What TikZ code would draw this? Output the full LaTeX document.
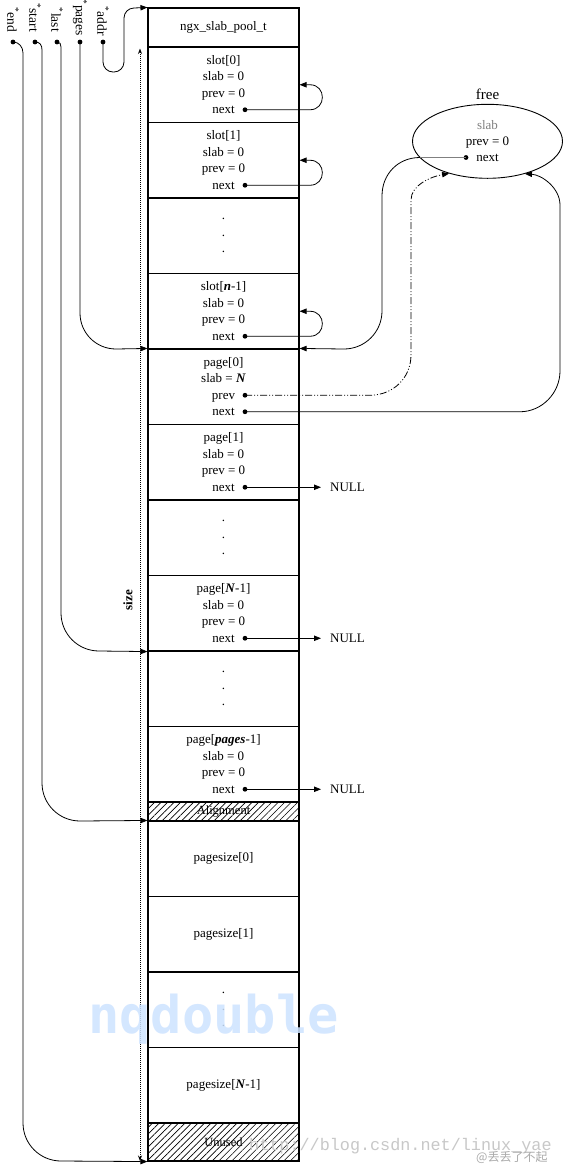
\documentclass[tikz,border=0pt]{standalone}
\usepackage{fontspec}
\setmainfont{Liberation Serif}
\newfontfamily\wmmono{Liberation Mono}
\newfontfamily\wmdots{DejaVu Sans Mono}
\newfontfamily\cjk{Noto Sans CJK SC}
\usetikzlibrary{arrows.meta,patterns.meta,shapes.geometric}
\newcommand\rowfont{\fontsize{13}{16.5}\selectfont}
\definecolor{wmblue}{RGB}{205,227,255}
\definecolor{wmgray}{RGB}{200,200,200}
\begin{document}
\begin{tikzpicture}[x=1pt,y=-1pt,
  row/.style={draw, line width=1.1pt, minimum width=151pt, inner sep=0pt, align=center, font=\rowfont},
  conn/.style={line width=0.8pt, -{Triangle[length=7pt,width=5.4pt]}},
  plain/.style={line width=0.8pt},
  pdot/.style={circle, fill, inner sep=0pt, minimum size=4.8pt},
  hatch/.style={pattern={Lines[angle=45,distance=4.6pt,line width=0.6pt]}},
  lbl/.style={inner sep=0pt, font=\rowfont},
  ptrlbl/.style={inner sep=0pt, font=\fontsize{13.5}{16}\selectfont, rotate=-90, anchor=east},
  dashdotdot/.style={dash pattern=on 7pt off 2pt on 1pt off 2pt on 1pt off 2pt}]
\fill[white] (0,0) rectangle (564,1165);
\useasboundingbox (0,0) rectangle (564,1165);

% ---- main column ----
\node[row, minimum height=39pt] (header) at (223.5,27.5) {ngx\_slab\_pool\_t};
\node[row, minimum height=75.5pt] (slot0) at (223.5,84.75) {slot[0]\\slab = 0\\prev = 0\\next};
\node[row, minimum height=75.5pt] (slot1) at (223.5,160.25) {slot[1]\\slab = 0\\prev = 0\\next};
\node[row, minimum height=75.5pt] (dots1) at (223.5,235.75) {.\\.\\.};
\node[row, minimum height=75.5pt] (slotn) at (223.5,311.25) {slot[\textbf{\textit{n}}-1]\\slab = 0\\prev = 0\\next};
\node[row, minimum height=75.5pt] (page0) at (223.5,386.75) {page[0]\\slab = \textbf{\textit{N}}\\prev\\next};
\node[row, minimum height=75.5pt] (page1) at (223.5,462.25) {page[1]\\slab = 0\\prev = 0\\next};
\node[row, minimum height=75.5pt] (dots2) at (223.5,537.75) {.\\.\\.};
\node[row, minimum height=75.5pt] (pageN) at (223.5,613.25) {page[\textbf{\textit{N}}-1]\\slab = 0\\prev = 0\\next};
\node[row, minimum height=75.5pt] (dots3) at (223.5,688.75) {.\\.\\.};
\node[row, minimum height=75.5pt] (pagep) at (223.5,764.25) {page[\textbf{\textit{pages}}-1]\\slab = 0\\prev = 0\\next};
\node[row, minimum height=19pt, hatch] (alignrow) at (223.5,811.5) {\fontsize{12.5}{13}\selectfont Alignment};
\node[row, minimum height=75.5pt] (ps0) at (223.5,858.75) {pagesize[0]};
\node[row, minimum height=75.5pt] (ps1) at (223.5,934.25) {pagesize[1]};
\node[row, minimum height=75.5pt] (dots4) at (223.5,1009.75) {.\\.\\.};
\node[row, minimum height=75.5pt] (psN) at (223.5,1085.25) {pagesize[\textbf{\textit{N}}-1]};
\node[row, minimum height=38pt, hatch] (unused) at (223.5,1142) {\fontsize{12.5}{13}\selectfont Unused};

% ---- size ----
\coordinate (sizetop) at (140,48.5);
\coordinate (sizebot) at (140,1161);
\draw[line width=0.8pt, dash pattern=on 1pt off 1pt, {Stealth[length=5.5pt,width=4pt]}-{Stealth[length=5.5pt,width=4pt]}] (sizetop) -- (sizebot);
\node[rotate=90, inner sep=0pt, font=\rowfont\bfseries] (sizelbl) at (128,600) {size};

% ---- pointer labels and dots ----
\node[ptrlbl] (lend) at (13,32) {\textsuperscript{*}end};
\node[ptrlbl] (lstart) at (35,32) {\textsuperscript{*}start};
\node[ptrlbl] (llast) at (57,32) {\textsuperscript{*}last};
\node[ptrlbl] (lpages) at (80,36) {\textsuperscript{*}pages};
\node[ptrlbl] (laddr) at (103,36) {\textsuperscript{*}addr};
\node[pdot] (dend) at (13,42) {};
\node[pdot] (dstart) at (35,42) {};
\node[pdot] (dlast) at (57,42) {};
\node[pdot] (dpages) at (80,42) {};
\node[pdot] (daddr) at (103,42) {};

\draw[conn] (daddr.center) -- (103,62) .. controls +(0,5.5) and +(-5.5,0) .. (113,72) -- (114,72) .. controls +(5.5,0) and +(0,5.5) .. (124,62) -- (124,18) .. controls +(0,-5.5) and +(-5.5,0) .. (134,8) -- (header.north west);
\draw[conn] (dpages.center) -- (80,313) .. controls +(0,20) and +(-20,0) .. (116,349) -- (page0.north west);
\draw[conn] (dlast.center) .. controls +(3,0) and +(0,-3) .. (61,47) -- (61,613) .. controls +(0,21) and +(-21,0) .. (99,651) -- (pageN.south west);
\draw[conn] (dstart.center) .. controls +(5,0) and +(0,-5) .. (42,50) -- (42,783) .. controls +(0,21) and +(-21,0) .. (80,821) -- (ps0.north west);
\draw[conn] (dend.center) .. controls +(6,0) and +(0,-6) .. (23,53) -- (23,1123) .. controls +(0,21) and +(-21,0) .. (61,1161) -- (unused.south west);

% ---- slot self loops ----
\node[pdot] (s0n) at (245,109.75) {};
\node[pdot] (s1n) at (245,185.25) {};
\node[pdot] (snn) at (245,336.25) {};
\draw[conn] (s0n.center) -- (310,109.75) .. controls +(16.5,0) and +(16.5,0) .. (310,84.75) -- (slot0.east);
\draw[conn] (s1n.center) -- (310,185.25) .. controls +(16.5,0) and +(16.5,0) .. (310,160.25) -- (slot1.east);
\draw[conn] (snn.center) -- (310,336.25) .. controls +(16.5,0) and +(16.5,0) .. (310,311.25) -- (slotn.east);

% ---- free list ----
\node[font=\fontsize{15}{15}\selectfont, inner sep=0pt] (freelbl) at (487.5,94) {free};
\node[ellipse, draw, line width=0.9pt, minimum width=150pt, minimum height=74pt, inner sep=0pt, align=center, font=\fontsize{13}{16}\selectfont] (free) at (487.5,141.3) {\textcolor{gray}{slab}\\prev = 0\\next};
\node[pdot] (fn) at (466,157.5) {};
\coordinate (fe) at (420,157.5);
\draw[plain, gray] (fn.center) -- (fe);
\draw[conn] (fe) .. controls +(-22,0) and +(0,-22) .. (382,196) -- (382,311) .. controls +(0,21) and +(21,0) .. (344,349) -- (page0.north east);

\node[pdot] (p0p) at (245,395.25) {};
\node[pdot] (p0n) at (245,411.75) {};
\draw[conn, dashdotdot] (p0p.center) -- (370,395.25) .. controls +(23,0) and +(0,23) .. (411,355) -- (411,200) .. controls +(0,-15) and +(-18,3) .. (free.220.5);
\draw[conn] (p0n.center) -- (520,411.75) .. controls +(22,0) and +(0,22) .. (560,371) -- (560,205) .. controls +(0,-17) and +(17,1) .. (free.319.5);

% ---- NULL pointers ----
\node[pdot] (p1n) at (245,487.25) {};
\node[pdot] (pNn) at (245,638.25) {};
\node[pdot] (ppn) at (245,789.25) {};
\node[lbl, anchor=west] (null1) at (330,487.25) {NULL};
\node[lbl, anchor=west] (null2) at (330,638.25) {NULL};
\node[lbl, anchor=west] (null3) at (330,789.25) {NULL};
\draw[conn] (p1n.center) -- ([xshift=-9pt]null1.west);
\draw[conn] (pNn.center) -- ([xshift=-9pt]null2.west);
\draw[conn] (ppn.center) -- ([xshift=-9pt]null3.west);

% ---- watermarks ----
\node[anchor=base west, inner sep=0pt, text=wmblue, font=\wmdots\bfseries\fontsize{52}{52}\selectfont, opacity=0.85] (wm1) at (88,1033) {nqdouble};
\node[anchor=base west, inner sep=0pt, text=wmgray, font=\wmmono\fontsize{16.8}{17}\selectfont] (wm2) at (249,1150) {http://blog.csdn.net/linux\_yae};
\node[anchor=base west, inner sep=0pt, text=wmgray!85!black, font=\cjk\fontsize{12}{12}\selectfont] (wm3) at (476,1161) {@丢丢了不起};
\end{tikzpicture}
\end{document}
